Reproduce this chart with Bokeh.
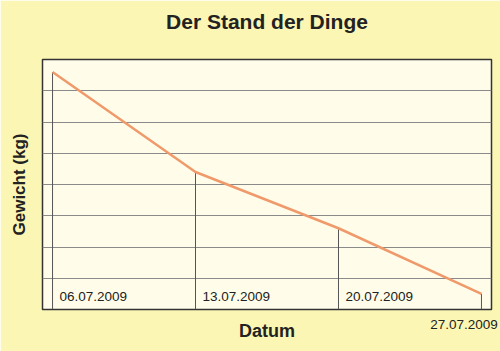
from datetime import datetime, timedelta
from bokeh.plotting import figure
from bokeh.models import (ColumnDataSource, LabelSet, Range1d, FixedTicker,
                          DatetimeTickFormatter, Title)
from bokeh.core.properties import value
from bokeh.embed import file_html
from bokeh.resources import INLINE

# ---- data ----
dates = [datetime(2009, 7, 6), datetime(2009, 7, 13), datetime(2009, 7, 20), datetime(2009, 7, 27)]
date_labels = ["06.07.2009", "13.07.2009", "20.07.2009", "27.07.2009"]
weights = [97.6, 94.4, 92.6, 90.5]
y_ticks = [90, 91, 92, 93, 94, 95, 96, 97, 98]

title = "Der Stand der Dinge"
x_title = "Datum"
y_title = "Gewicht (kg)"

FONT = "Liberation Sans"
y_min, y_max = y_ticks[0], y_ticks[-1]
pad = timedelta(hours=11.8)
shift = timedelta(hours=20.6)   # visual shift of the last date label

p = figure(width=500, height=351, output_backend="svg", toolbar_location=None,
           x_axis_type="datetime",
           x_range=Range1d(dates[0] - pad, dates[-1] + pad),
           y_range=Range1d(y_min, y_max),
           min_border_left=42, min_border_right=9, min_border_top=58, min_border_bottom=42)
p.extra_x_ranges = {"shifted": Range1d(dates[0] - pad + shift, dates[-1] + pad + shift)}

p.title.text = title
p.title.align = "center"
p.title.text_font = FONT
p.title.text_font_size = "21px"
p.title.text_font_style = "bold"
p.title.text_color = "#222222"
p.title.standoff = 14

# spacer between the title and the plot frame
p.add_layout(Title(text="\u00a0", text_font_size="10px", standoff=7), "above")

p.border_fill_color = "#fbf6b4"
p.background_fill_color = "#fffdea"
p.outline_line_color = "#333333"
p.outline_line_width = 1.5

# grid
p.ygrid.ticker = FixedTicker(ticks=y_ticks)
p.ygrid.grid_line_color = "#8a8a8a"
p.ygrid.grid_line_width = 1
p.xgrid.grid_line_color = None

# axes
for ax in (p.xaxis[0], p.yaxis[0]):
    ax.major_tick_line_color = None
    ax.minor_tick_line_color = None
    ax.axis_line_color = None
    ax.axis_label_text_font = FONT
    ax.axis_label_text_font_style = "bold"
    ax.axis_label_text_color = "#222222"
p.yaxis[0].ticker = FixedTicker(ticks=[])
p.yaxis[0].major_label_standoff = 0
p.yaxis[0].axis_label = y_title
p.yaxis[0].axis_label_text_font_size = "17px"
p.yaxis[0].axis_label_standoff = 14

xa = p.xaxis[0]
xa.x_range_name = "shifted"
xa.ticker = FixedTicker(ticks=[dates[-1].timestamp() * 1000])
fmt = "%d.%m.%Y"
xa.formatter = DatetimeTickFormatter(microseconds=fmt, milliseconds=fmt, seconds=fmt, minsec=fmt,
                                     minutes=fmt, hourmin=fmt, hours=fmt, days=fmt,
                                     months=fmt, years=fmt)
xa.major_label_standoff = 4
xa.major_label_text_font = FONT
xa.major_label_text_font_size = "13.5px"
xa.major_label_text_color = "#222222"
xa.axis_label = x_title
xa.axis_label_text_font_size = "18px"
xa.axis_label_standoff = -11

src = ColumnDataSource(dict(x=dates, y=weights, base=[y_min] * len(dates)))

# drop lines
p.segment(x0="x", y0="base", x1="x", y1="y", source=src, line_color="#555555", line_width=1)
# weight line
p.line(x="x", y="y", source=src, line_color="#f09a6c", line_width=2.5)

# date labels inside the plot area
inner = ColumnDataSource(dict(x=dates[:-1], y=[y_min] * (len(dates) - 1), lab=date_labels[:-1]))
p.add_layout(LabelSet(x="x", y="y", text="lab", source=inner, x_offset=7, y_offset=9,
                      text_font=value(FONT), text_font_size=value("13.5px"), text_color="#222222",
                      text_baseline="alphabetic", text_align="left"))

open("out.html", "w").write(file_html(p, INLINE))
